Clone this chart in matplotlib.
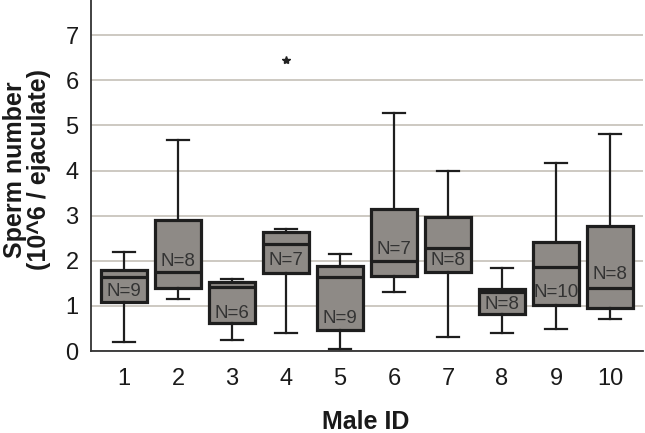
import matplotlib
matplotlib.use("Agg")
import matplotlib.pyplot as plt

plt.rcParams['font.family'] = ['Liberation Sans', 'DejaVu Sans']

male_ids = ["1", "2", "3", "4", "5", "6", "7", "8", "9", "10"]
whisker_low = [0.21, 1.15, 0.24, 0.40, 0.04, 1.31, 0.30, 0.41, 0.49, 0.71]
q1 = [1.09, 1.40, 0.61, 1.72, 0.47, 1.66, 1.76, 0.82, 1.03, 0.95]
median = [1.63, 1.74, 1.41, 2.37, 1.63, 2.00, 2.29, 1.30, 1.86, 1.39]
q3 = [1.80, 2.90, 1.52, 2.63, 1.88, 3.15, 2.97, 1.38, 2.41, 2.76]
whisker_high = [2.19, 4.68, 1.60, 2.71, 2.15, 5.27, 4.00, 1.84, 4.16, 4.80]
outliers = [[], [], [], [6.46], [], [], [], [], [], []]
n_counts = [9, 8, 6, 7, 9, 7, 8, 8, 10, 8]
n_label_y = [1.31, 1.98, 0.84, 2.00, 0.73, 2.24, 2.00, 1.02, 1.29, 1.69]

fig = plt.figure(figsize=(6.45, 4.33), dpi=100)
ax = fig.add_axes([91/645, 82/433, 552/645, 351/433])

stats = []
for i in range(len(male_ids)):
    stats.append(dict(whislo=whisker_low[i], q1=q1[i], med=median[i], q3=q3[i],
                      whishi=whisker_high[i], fliers=outliers[i], label=male_ids[i]))

positions = list(range(1, len(male_ids) + 1))
ax.bxp(stats, positions=positions, widths=0.86, patch_artist=True, showfliers=True,
       boxprops=dict(facecolor='#8e8a86', edgecolor='#1e1e1e', linewidth=2.3),
       medianprops=dict(color='#1e1e1e', linewidth=2.3),
       whiskerprops=dict(color='#1e1e1e', linewidth=1.6),
       capprops=dict(color='#1e1e1e', linewidth=1.6),
       capwidths=0.42,
       flierprops=dict(marker='*', markersize=6, markerfacecolor='#222222',
                       markeredgecolor='#222222', linestyle='none'),
       zorder=3)

for i, (n, yv) in enumerate(zip(n_counts, n_label_y)):
    ax.text(positions[i], yv, f"N={n}", ha='center', va='center', fontsize=13.5,
            color='#333333', zorder=5)

ax.set_xlim(0.39, 10.61)
ax.set_ylim(0, 7.78)
ax.set_yticks(range(0, 8))
ax.set_xticks(positions)
ax.set_xticklabels(male_ids)
ax.yaxis.grid(True, color='#c9c5bd', linewidth=1.3, zorder=0)
ax.set_axisbelow(True)
for s in ['top', 'right']:
    ax.spines[s].set_visible(False)
for s in ['left', 'bottom']:
    ax.spines[s].set_color('#333333')
    ax.spines[s].set_linewidth(1.3)
ax.tick_params(length=0, labelsize=17, colors='#1a1a1a', pad=12)
ax.tick_params(axis='y', pad=9)

fig.text(366/645, 1 - 429/433, "Male ID", ha='center', va='baseline', fontsize=18,
         fontweight='bold', color='#1a1a1a')
fig.text(27/645, 1 - 170/433, "Sperm number\n(10^6 / ejaculate)", ha='center', va='center',
         rotation=90, fontsize=18, fontweight='bold', color='#1a1a1a', linespacing=1.0)

fig.savefig("out.png", dpi=100)
